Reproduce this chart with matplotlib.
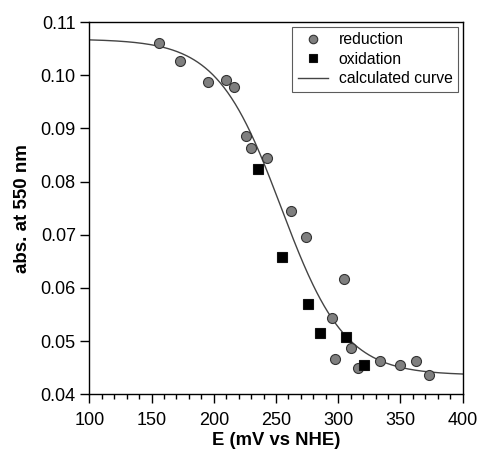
import numpy as np
import matplotlib
matplotlib.use("Agg")
import matplotlib.pyplot as plt
from matplotlib.ticker import MultipleLocator, FormatStrFormatter

plt.rcParams['font.family'] = ['Liberation Sans', 'DejaVu Sans']

# reduction data (E in mV vs NHE, absorbance at 550 nm)
red_E = [156, 173, 195, 210, 216, 226, 230, 242.5, 262, 274, 305, 295, 297.5, 310, 316, 333.5, 350, 362.5, 373]
red_A = [0.1060, 0.1027, 0.0987, 0.0991, 0.0977, 0.0886, 0.0864, 0.0845, 0.0745, 0.0696, 0.0617, 0.0544, 0.0466, 0.0488, 0.0450, 0.0462, 0.0456, 0.0462, 0.0437]

# oxidation data
ox_E = [235.5, 255, 275.5, 285, 306.5, 320.5]
ox_A = [0.0824, 0.0658, 0.0569, 0.0516, 0.0507, 0.0455]

# calculated (Nernst, n = 1) curve parameters
E0 = 254.0
A_ox = 0.1068
A_red = 0.0436
RT_nF = 25.7

E_curve = np.linspace(100, 400, 400)
A_curve = A_red + (A_ox - A_red) / (1 + np.exp((E_curve - E0) / RT_nF))

fig = plt.figure(figsize=(4.8, 4.55), dpi=100)
ax = fig.add_axes([0.186, 0.1334, 0.778, 0.8182])

ax.plot(E_curve, A_curve, color='#444444', lw=1.0, label='calculated curve', zorder=2)
ax.plot(red_E, red_A, 'o', ms=7.2, mfc='#7f7f7f', mec='#333333', mew=0.8, label='reduction', zorder=3)
ax.plot(ox_E, ox_A, 's', ms=7, mfc='black', mec='#111111', mew=0.8, label='oxidation', zorder=4)

ax.set_xlim(100, 400)
ax.set_ylim(0.04, 0.11)
ax.xaxis.set_major_locator(MultipleLocator(50))
ax.xaxis.set_minor_locator(MultipleLocator(10))
ax.yaxis.set_major_locator(MultipleLocator(0.01))
ax.yaxis.set_major_formatter(FormatStrFormatter('%.2f'))
ax.tick_params(axis='both', which='major', direction='out', length=6.3, width=1, labelsize=13)
ax.tick_params(axis='x', which='major', pad=6.2)
ax.tick_params(axis='y', which='major', pad=3.4)
ax.tick_params(axis='x', which='minor', direction='out', length=3.6, width=1)
for s in ax.spines.values():
    s.set_linewidth(1.0)

ax.set_xlabel('E (mV vs NHE)', fontsize=13.3, fontweight='bold', labelpad=2.5)
ax.set_ylabel('abs. at 550 nm', fontsize=13.5, fontweight='bold', labelpad=7)

handles, labels = ax.get_legend_handles_labels()
order = [1, 2, 0]
leg = ax.legend([handles[i] for i in order], [labels[i] for i in order],
                loc='upper right', fontsize=11.3, frameon=True, fancybox=False,
                edgecolor='#333333', handlelength=1.9, handletextpad=0.7,
                borderaxespad=0.3, borderpad=0.35, labelspacing=0.28,
                markerscale=0.85)
leg.get_frame().set_linewidth(0.8)

fig.savefig('out.png', dpi=100)
